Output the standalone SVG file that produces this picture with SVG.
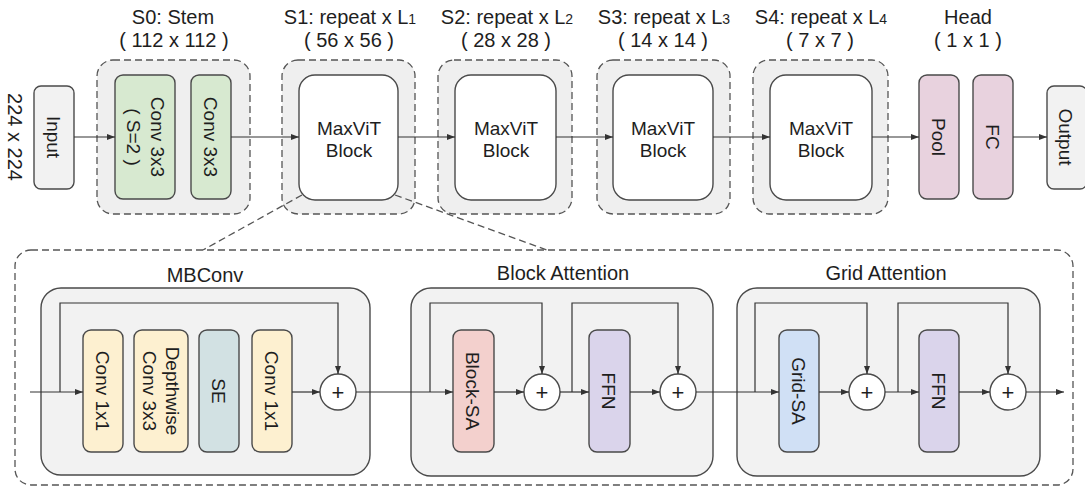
<svg xmlns="http://www.w3.org/2000/svg" width="1085" height="491" viewBox="0 0 1085 491">
<style>
text{font-family:"Liberation Sans",Arial,sans-serif;fill:#1e1e1e;}
.t{font-size:20px;text-anchor:middle;}
.b{font-size:19px;text-anchor:middle;}
.p{font-size:22px;text-anchor:middle;}
.dash{fill:#efefef;stroke:#555;stroke-width:1.3;stroke-dasharray:7 4;}
.box{stroke:#4a4a4a;stroke-width:1.4;}
.panel{fill:#f2f2f2;stroke:#4a4a4a;stroke-width:1.4;}
.ar{fill:none;stroke:#333;stroke-width:1.2;marker-end:url(#ah);}
.dl{fill:none;stroke:#555;stroke-width:1.3;stroke-dasharray:7 4;}
.sub{font-size:14px;}
</style>
<defs>
<marker id="ah" markerWidth="8" markerHeight="6" refX="8" refY="3" orient="auto" markerUnits="userSpaceOnUse">
<path d="M0,0 L8,3 L0,6 Z" fill="#333"/>
</marker>
</defs>
<rect width="1085" height="491" fill="#fff"/>

<g id="detail-frame">
<rect x="15" y="250" width="1058" height="235" rx="16" fill="#fff" class="dl"/>
</g>

<g id="titles">
<text class="t" x="173" y="24">S0: Stem</text>
<text class="t" x="174" y="47">( 112 x 112 )</text>
<text class="t" x="350" y="24">S1: repeat x L<tspan class="sub">1</tspan></text>
<text class="t" x="349" y="47">( 56 x 56 )</text>
<text class="t" x="507" y="24">S2: repeat x L<tspan class="sub">2</tspan></text>
<text class="t" x="506" y="47">( 28 x 28 )</text>
<text class="t" x="664" y="24">S3: repeat x L<tspan class="sub">3</tspan></text>
<text class="t" x="663" y="47">( 14 x 14 )</text>
<text class="t" x="821" y="24">S4: repeat x L<tspan class="sub">4</tspan></text>
<text class="t" x="820" y="47">( 7 x 7 )</text>
<text class="t" x="968" y="24">Head</text>
<text class="t" x="968" y="47">( 1 x 1 )</text>
<text class="t" transform="translate(8,137) rotate(90)">224 x 224</text>
</g>

<g id="stage-frames">
<rect class="dash" x="97" y="60" width="153" height="154" rx="16"/>
<rect class="dash" x="282" y="60" width="133" height="154" rx="16"/>
<rect class="dash" x="438" y="60" width="134" height="154" rx="16"/>
<rect class="dash" x="597" y="60" width="133" height="154" rx="16"/>
<rect class="dash" x="753" y="60" width="135" height="154" rx="16"/>
</g>

<g id="input">
<rect class="box" x="34" y="86" width="40" height="103" rx="7" fill="#f2f2f2"/>
<text class="b" transform="translate(47,137) rotate(90)">Input</text>
</g>
<g id="stem-conv1">
<rect class="box" x="115" y="75" width="60" height="124" rx="8" fill="#d7e9d0"/>
<text class="b" transform="translate(151,137) rotate(90)"><tspan x="0" y="0">Conv 3x3</tspan><tspan x="0" y="24">( S=2 )</tspan></text>
</g>
<g id="stem-conv2">
<rect class="box" x="191" y="75" width="40" height="124" rx="8" fill="#d7e9d0"/>
<text class="b" transform="translate(204,137) rotate(90)">Conv 3x3</text>
</g>
<g id="s1-block">
<rect class="box" x="299" y="75" width="99" height="125" rx="16" fill="#fff"/>
<text class="b" x="349" y="135">MaxViT</text><text class="b" x="349" y="157">Block</text>
</g>
<g id="s2-block">
<rect class="box" x="455" y="75" width="101" height="125" rx="16" fill="#fff"/>
<text class="b" x="506" y="135">MaxViT</text><text class="b" x="506" y="157">Block</text>
</g>
<g id="s3-block">
<rect class="box" x="613" y="75" width="100" height="125" rx="16" fill="#fff"/>
<text class="b" x="663" y="135">MaxViT</text><text class="b" x="663" y="157">Block</text>
</g>
<g id="s4-block">
<rect class="box" x="770" y="75" width="102" height="125" rx="16" fill="#fff"/>
<text class="b" x="821" y="135">MaxViT</text><text class="b" x="821" y="157">Block</text>
</g>
<g id="pool">
<rect class="box" x="919" y="75" width="40" height="124" rx="8" fill="#e8d2de"/>
<text class="b" transform="translate(932,137) rotate(90)">Pool</text>
</g>
<g id="fc">
<rect class="box" x="973" y="75" width="40" height="124" rx="8" fill="#e8d2de"/>
<text class="b" transform="translate(986,137) rotate(90)">FC</text>
</g>
<g id="output">
<rect class="box" x="1047" y="86" width="40" height="103" rx="7" fill="#f2f2f2"/>
<text class="b" transform="translate(1059,137) rotate(90)">Output</text>
</g>

<g id="mbconv">
<rect class="panel" x="41" y="288" width="329" height="187" rx="20"/>
<text class="t" x="205" y="282">MBConv</text>
</g>
<g id="block-attention">
<rect class="panel" x="411" y="288" width="302" height="188" rx="20"/>
<text class="t" x="563" y="280">Block Attention</text>
</g>
<g id="grid-attention">
<rect class="panel" x="737" y="288" width="303" height="188" rx="20"/>
<text class="t" x="886" y="280">Grid Attention</text>
</g>

<g id="mb-conv1">
<rect class="box" x="83" y="330" width="40" height="122" rx="8" fill="#fdf0d0"/>
<text class="b" transform="translate(96,391) rotate(90)">Conv 1x1</text>
</g>
<g id="mb-dw">
<rect class="box" x="134" y="330" width="54" height="122" rx="8" fill="#fdf0d0"/>
<text class="b" transform="translate(166,391) rotate(90)"><tspan x="0" y="0">Depthwise</tspan><tspan x="0" y="23">Conv 3x3</tspan></text>
</g>
<g id="mb-se">
<rect class="box" x="199" y="330" width="40" height="122" rx="8" fill="#d2e1e3"/>
<text class="b" transform="translate(212,391) rotate(90)">SE</text>
</g>
<g id="mb-conv2">
<rect class="box" x="252" y="330" width="40" height="122" rx="8" fill="#fdf0d0"/>
<text class="b" transform="translate(265,391) rotate(90)">Conv 1x1</text>
</g>
<g id="mb-add">
<circle class="box" cx="338" cy="392" r="18" fill="#fff"/>
<text class="p" x="338" y="400">+</text>
</g>
<g id="block-sa">
<rect class="box" x="453" y="330" width="41" height="122" rx="8" fill="#f3d0cd"/>
<text class="b" transform="translate(466,391) rotate(90)">Block-SA</text>
</g>
<g id="ba-add1">
<circle class="box" cx="542" cy="392" r="18" fill="#fff"/>
<text class="p" x="542" y="400">+</text>
</g>
<g id="ba-ffn">
<rect class="box" x="589" y="330" width="41" height="122" rx="8" fill="#dad4eb"/>
<text class="b" transform="translate(602,391) rotate(90)">FFN</text>
</g>
<g id="ba-add2">
<circle class="box" cx="678" cy="392" r="18" fill="#fff"/>
<text class="p" x="678" y="400">+</text>
</g>
<g id="grid-sa">
<rect class="box" x="779" y="330" width="40" height="122" rx="8" fill="#d0e0f5"/>
<text class="b" transform="translate(792,391) rotate(90)">Grid-SA</text>
</g>
<g id="ga-add1">
<circle class="box" cx="867" cy="392" r="18" fill="#fff"/>
<text class="p" x="867" y="400">+</text>
</g>
<g id="ga-ffn">
<rect class="box" x="919" y="330" width="40" height="122" rx="8" fill="#dad4eb"/>
<text class="b" transform="translate(932,391) rotate(90)">FFN</text>
</g>
<g id="ga-add2">
<circle class="box" cx="1008" cy="392" r="18" fill="#fff"/>
<text class="p" x="1008" y="400">+</text>
</g>

<g id="connectors">
<line class="dl" x1="302" y1="195" x2="203" y2="250"/>
<line class="dl" x1="395" y1="195" x2="547" y2="250"/>
<line class="ar" x1="74" y1="137" x2="115" y2="137"/>
<line class="ar" x1="231" y1="137" x2="299" y2="137"/>
<line class="ar" x1="398" y1="137" x2="455" y2="137"/>
<line class="ar" x1="556" y1="137" x2="613" y2="137"/>
<line class="ar" x1="713" y1="137" x2="770" y2="137"/>
<line class="ar" x1="872" y1="137" x2="919" y2="137"/>
<line class="ar" x1="1013" y1="137" x2="1047" y2="137"/>
<line class="ar" x1="30" y1="392" x2="83" y2="392"/>
<path class="ar" d="M60,392 V303 H338 V374"/>
<line class="ar" x1="292" y1="392" x2="320" y2="392"/>
<line class="ar" x1="356" y1="392" x2="453" y2="392"/>
<path class="ar" d="M430,392 V303 H542 V374"/>
<line class="ar" x1="494" y1="392" x2="524" y2="392"/>
<line class="ar" x1="560" y1="392" x2="589" y2="392"/>
<path class="ar" d="M572,392 V303 H678 V374"/>
<line class="ar" x1="630" y1="392" x2="660" y2="392"/>
<line class="ar" x1="696" y1="392" x2="779" y2="392"/>
<path class="ar" d="M755,392 V303 H867 V374"/>
<line class="ar" x1="819" y1="392" x2="849" y2="392"/>
<line class="ar" x1="885" y1="392" x2="919" y2="392"/>
<path class="ar" d="M898,392 V303 H1008 V374"/>
<line class="ar" x1="959" y1="392" x2="990" y2="392"/>
<line class="ar" x1="1026" y1="392" x2="1064" y2="392"/>
</g>
</svg>
